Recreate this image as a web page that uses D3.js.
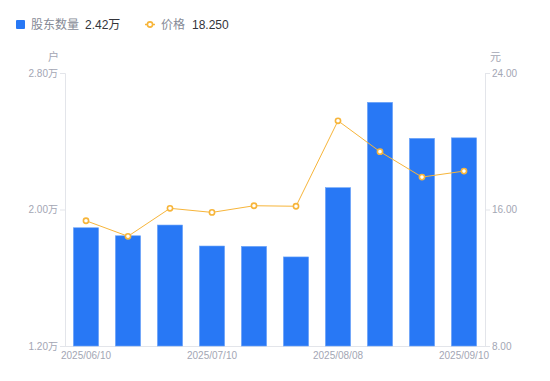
<!DOCTYPE html>
<html><head><meta charset="utf-8">
<script src="https://cdn.jsdelivr.net/npm/d3@7/dist/d3.min.js"></script>
<style>body{margin:0;background:#fff;font-family:"Liberation Sans","Noto Sans CJK SC",sans-serif;}</style>
</head><body><svg id="c" width="550" height="381"></svg>
<script>
const categories = ["2025/06/10","2025/06/20","2025/06/30","2025/07/10","2025/07/18","2025/07/31","2025/08/08","2025/08/20","2025/08/29","2025/09/10"];
const holders = [1.893,1.846,1.909,1.786,1.784,1.722,2.128,2.628,2.417,2.42];
const prices = [15.34,14.43,16.07,15.83,16.22,16.19,21.20,19.39,17.90,18.25];
const leftTicks = [1.2,2.0,2.8];
const rightTicks = [8,16,24];
const shownLabels = ["2025/06/10","2025/07/10","2025/08/08","2025/09/10"];

const svg = d3.select("#c");
const L=65,R=485,T=73,B=346;
const x = d3.scaleBand().domain(categories).range([L,R]).paddingInner(0.4).paddingOuter(0.2);
const yL = d3.scaleLinear().domain([1.2,2.8]).range([B,T]);
const yR = d3.scaleLinear().domain([8,24]).range([B,T]);
const axisCol="#e3e5ea", txtCol="#a3a6b4";
const font='"Liberation Sans","Noto Sans CJK SC",sans-serif';

// axes
const gl = svg.append("g").attr("transform",`translate(${L},0)`)
  .call(d3.axisLeft(yL).tickValues(leftTicks).tickSize(5).tickPadding(2).tickFormat(d=>d3.format(".2f")(d)+"万"));
const gr = svg.append("g").attr("transform",`translate(${R},0)`)
  .call(d3.axisRight(yR).tickValues(rightTicks).tickSize(5).tickPadding(2).tickFormat(d3.format(".2f")));
const gb = svg.append("g").attr("transform",`translate(0,${B})`)
  .call(d3.axisBottom(x).tickValues(shownLabels).tickSize(0).tickPadding(6));
gb.selectAll(".tick text").attr("dy","0.71em");
[gl,gr,gb].forEach(g=>{
  g.selectAll("path.domain").attr("stroke",axisCol);
  g.selectAll(".tick line").attr("stroke",axisCol);
  g.selectAll("text").attr("fill",txtCol).attr("font-size",10).attr("font-family",font);
});
gb.select("path.domain").attr("d",`M${L},0.5H${R}`);

svg.append("text").attr("x",L-6).attr("y",61).attr("text-anchor","end").attr("fill",txtCol).attr("font-size",11).attr("font-family",font).text("户");
svg.append("text").attr("x",R+5).attr("y",61).attr("text-anchor","start").attr("fill",txtCol).attr("font-size",11).attr("font-family",font).text("元");

// bars
svg.append("g").selectAll("rect").data(holders).join("rect")
  .attr("x",(d,i)=>x(categories[i])).attr("width",x.bandwidth())
  .attr("y",d=>yL(d)).attr("height",d=>B-yL(d))
  .attr("fill","#2878f5").attr("stroke","#6ea5f8").attr("stroke-width",0.6);

// line
const cx = i=>x(categories[i])+x.bandwidth()/2;
svg.append("path").datum(prices)
  .attr("d",d3.line().x((d,i)=>cx(i)).y(d=>yR(d)))
  .attr("fill","none").attr("stroke","#f7b53a").attr("stroke-width",1);
svg.append("g").selectAll("circle").data(prices).join("circle")
  .attr("cx",(d,i)=>cx(i)).attr("cy",d=>yR(d)).attr("r",2.6)
  .attr("fill","#fff").attr("stroke","#f7b53a").attr("stroke-width",1.6);

// legend
const lg = svg.append("g").attr("font-family",font).attr("font-size",12);
lg.append("rect").attr("x",16).attr("y",20).attr("width",9).attr("height",9).attr("rx",1).attr("fill","#2878f5");
lg.append("text").attr("x",31).attr("y",29).attr("fill","#868a96").text("股东数量");
lg.append("text").attr("x",85).attr("y",29).attr("fill","#33343a").text(d3.format(".2f")(holders[holders.length-1])+"万");
lg.append("line").attr("x1",145).attr("x2",155).attr("y1",24.5).attr("y2",24.5).attr("stroke","#f7b53a").attr("stroke-width",1.5);
lg.append("circle").attr("cx",150).attr("cy",24.5).attr("r",2.6).attr("fill","#fff").attr("stroke","#f7b53a").attr("stroke-width",1.6);
lg.append("text").attr("x",161).attr("y",29).attr("fill","#868a96").text("价格");
lg.append("text").attr("x",192).attr("y",29).attr("fill","#33343a").text(d3.format(".3f")(prices[prices.length-1]));
</script></body></html>
